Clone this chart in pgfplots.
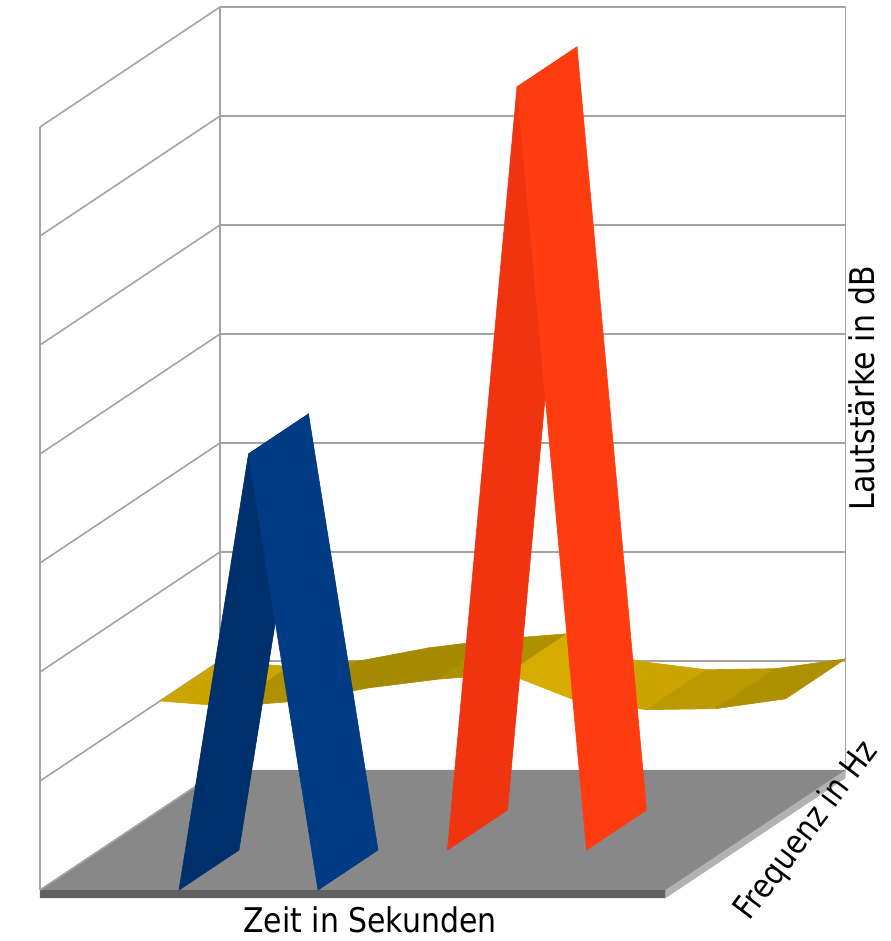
\documentclass[border=0pt]{standalone}
\usepackage{pgfplots}
\pgfplotsset{compat=1.18}
\usepackage{fontspec}
\setmainfont{DejaVu Sans}
\newfontfamily\lab[FakeStretch=0.88]{DejaVu Sans}
\definecolor{blueL}{HTML}{00306C}
\definecolor{blueR}{HTML}{003B84}
\definecolor{redL}{HTML}{F03410}
\definecolor{redR}{HTML}{FF3C10}
\definecolor{floorc}{HTML}{888888}
\definecolor{gridc}{HTML}{A4A4A4}
\definecolor{yLight}{HTML}{D6AC00}
\definecolor{yLight2}{HTML}{CCA400}
\definecolor{yMid}{HTML}{BA9A00}
\definecolor{yDark}{HTML}{A48A00}
\definecolor{yDark2}{HTML}{AE9000}
% one ribbon face: x1 z1 x2 z2 depth0 depth1 colour
\newcommand\rf[7]{\addplot3[fill=#7,draw=#7,line width=0.3pt] coordinates {(#1,#5,#2) (#3,#5,#4) (#3,#6,#4) (#1,#6,#2) (#1,#5,#2)};}
\begin{document}
\begin{tikzpicture}
\begin{axis}[
  anchor=origin, at={(20pt,25.5pt)},
  x={(34.75pt,0pt)}, y={(30pt,20pt)}, z={(0pt,54.5pt)},
  xmin=0, xmax=9, ymin=0, ymax=3, zmin=-0.1, zmax=7,
  hide axis, clip=false,
]
% floor with its edge
\addplot3[fill=black!62, draw=none] coordinates {(0,0,-0.075) (9,0,-0.075) (9,0,0) (0,0,0) (0,0,-0.075)};
\addplot3[fill=black!30, draw=none] coordinates {(9,0,-0.075) (9,3,-0.075) (9,3,0) (9,0,0) (9,0,-0.075)};
\addplot3[fill=floorc, draw=none] coordinates {(0,0,0) (9,0,0) (9,3,0) (0,3,0) (0,0,0)};
% walls: grid lines
\pgfplotsinvokeforeach{1,...,7}{\addplot3[gridc, line width=0.8pt] coordinates {(0,0,#1) (0,3,#1) (9,3,#1)};}
\addplot3[gridc, line width=0.8pt] coordinates {(0,0,0) (0,3,0)};
\addplot3[gridc, line width=0.8pt] coordinates {(0,0,0) (0,0,7)};
\addplot3[gridc, line width=0.8pt] coordinates {(0,3,0) (0,3,7)};
\addplot3[gridc, line width=0.8pt] coordinates {(9,3,0) (9,3,7)};
% yellow ribbon (back)
\rf{0}{1.00}{1}{0.95}{2}{3}{yLight2}
\rf{1}{0.95}{2}{1.00}{2}{3}{yDark2}
\rf{2}{1.00}{3}{1.12}{2}{3}{yDark}
\rf{3}{1.12}{4}{1.20}{2}{3}{yDark}
\rf{4}{1.20}{5}{1.25}{2}{3}{yDark2}
\rf{5}{1.25}{6}{1.00}{2}{3}{yLight}
\rf{6}{1.00}{7}{0.92}{2}{3}{yLight2}
\rf{7}{0.92}{8}{0.93}{2}{3}{yMid}
\rf{8}{0.93}{9}{1.02}{2}{3}{yDark2}
% red ribbon (middle)
\rf{5}{0}{6}{7}{1}{2}{redL}
\rf{6}{7}{7}{0}{1}{2}{redR}
% blue ribbon (front)
\rf{2}{0}{3}{4}{0}{1}{blueL}
\rf{3}{4}{4}{0}{0}{1}{blueR}
\end{axis}
\node[font=\lab\fontsize{17}{20}\selectfont, anchor=base] at (185pt,4.5pt) {Zeit in Sekunden};
\node[font=\lab\fontsize{17}{20}\selectfont, rotate=90] at (431pt,276.5pt) {Lautstärke in dB};
\node[font=\lab\fontsize{16.5}{20}\selectfont, rotate=53] at (403.5pt,55pt) {Frequenz in Hz};
\pgfresetboundingbox
\path (0,0) rectangle (445pt,470.5pt);
\end{tikzpicture}
\end{document}
